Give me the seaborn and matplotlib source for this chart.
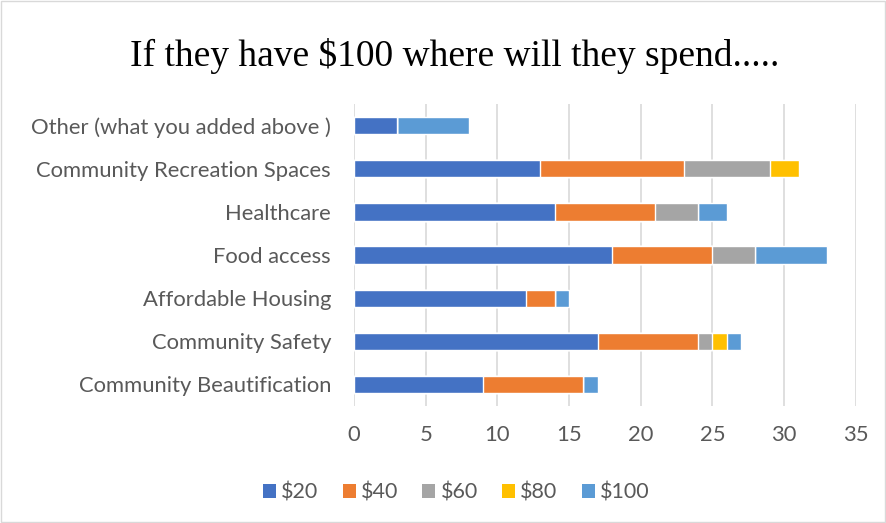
import matplotlib
matplotlib.use("Agg")
import matplotlib.pyplot as plt
from matplotlib.patches import Rectangle, Patch
import seaborn as sns
import pandas as pd
import numpy as np

categories = ["Other (what you added above )", "Community Recreation Spaces", "Healthcare",
              "Food access", "Affordable Housing", "Community Safety", "Community Beautification"]
series_names = ["$20", "$40", "$60", "$80", "$100"]
v20 = [3, 13, 14, 18, 12, 17, 9]
v40 = [0, 10, 7, 7, 2, 7, 7]
v60 = [0, 6, 3, 3, 0, 1, 0]
v80 = [0, 2, 0, 0, 0, 1, 0]
v100 = [5, 0, 2, 5, 1, 1, 1]
colors = ["#4472C4", "#ED7D31", "#A5A5A5", "#FFC000", "#5B9BD5"]
title = "If they have $100 where will they spend....."
xticks = [0, 5, 10, 15, 20, 25, 30, 35]

sns.set_theme(style="white")
plt.rcParams['font.family'] = ['Lato', 'DejaVu Sans']

fig = plt.figure(figsize=(8.86, 5.23), dpi=100)
ax = fig.add_axes([0.3995, 0.2237, 0.5665, 0.5773])

series = [v20, v40, v60, v80, v100]
cum = np.cumsum(np.array(series), axis=0)
for i in range(len(series) - 1, -1, -1):
    df = pd.DataFrame({"cat": categories, "val": cum[i]})
    sns.barplot(data=df, y="cat", x="val", orient="h", color=colors[i],
                width=0.4, saturation=1, ax=ax, order=categories, zorder=3)

ax.set_xlim(0, 35)
ax.set_xticks(xticks)
ax.xaxis.grid(True, color="#D9D9D9", linewidth=1.2, zorder=0)
ax.set_axisbelow(True)
for s in ax.spines.values():
    s.set_visible(False)
ax.set_xlabel("")
ax.set_ylabel("")
ax.tick_params(axis="both", length=0, labelsize=15.8, labelcolor="#595959")
ax.tick_params(axis="y", pad=16.5)
ax.tick_params(axis="x", pad=14)

fig.text(0.513, 0.893, title, ha="center", va="center", fontsize=27,
         family=["Liberation Serif"], color="black")

handles = [Patch(facecolor=c, edgecolor="none") for c in colors]
fig.legend(handles, series_names, loc="center", bbox_to_anchor=(0.515, 0.058), ncol=5,
           frameon=False, fontsize=15.5, handlelength=0.6, handleheight=0.6,
           handletextpad=0.25, columnspacing=1.12, labelcolor="#595959")

fig.add_artist(Rectangle((0.001, 0.001), 0.998, 0.998, transform=fig.transFigure,
                         fill=False, edgecolor="#D9D9D9", linewidth=1))

fig.savefig("out.png", dpi=100)
